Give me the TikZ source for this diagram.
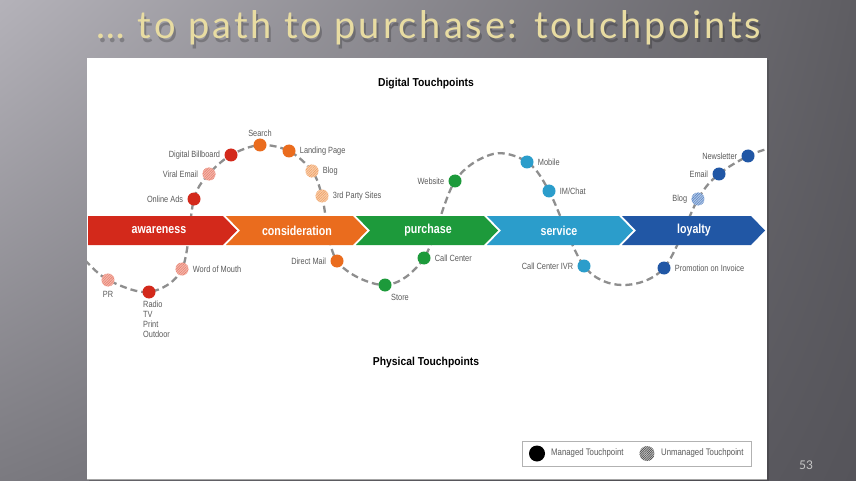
\documentclass[tikz,border=0pt]{standalone}
\usepackage{fontspec}
\usetikzlibrary{patterns.meta,shadings}
\newfontfamily\condfont[FakeStretch=0.82]{Liberation Sans}
\newfontfamily\headfont[FakeStretch=0.9]{Liberation Sans}
\newfontfamily\titlefont[LetterSpace=7.5]{Lato}
\newfontfamily\pagefont{Lato}
\definecolor{bgUL}{HTML}{B4B2B9}
\definecolor{bgUR}{HTML}{5E5D62}
\definecolor{bgLL}{HTML}{7B7A80}
\definecolor{bgLR}{HTML}{55545A}
\definecolor{cRed}{HTML}{D3291B}
\definecolor{cRedL}{HTML}{F5B9AE}
\definecolor{cRedH}{HTML}{E8806F}
\definecolor{cOra}{HTML}{EA6C1E}
\definecolor{cOraL}{HTML}{F9CFAE}
\definecolor{cOraH}{HTML}{F0A064}
\definecolor{cGre}{HTML}{1D9A3B}
\definecolor{cSer}{HTML}{2B9DCB}
\definecolor{cLoy}{HTML}{2157A5}
\definecolor{cLoyL}{HTML}{B3C8E6}
\definecolor{cLoyH}{HTML}{5A86C5}
\definecolor{labgray}{HTML}{5A5A5A}
\definecolor{curvegray}{HTML}{8E8E8E}
\definecolor{titlecol}{HTML}{E8DCA2}
\begin{document}
\begin{tikzpicture}[x=1pt,y=-1pt,
  tp/.style={circle, minimum size=13pt, inner sep=0pt, fill=#1},
  tph/.style 2 args={circle, minimum size=13pt, inner sep=0pt, fill=#1,
     postaction={pattern={Lines[angle=45,distance=1.8pt,line width=0.6pt]}, pattern color=#2}},
  lab/.style={font=\condfont\fontsize{9}{10}\selectfont, text=labgray, inner sep=1pt},
  bandlab/.style={font=\condfont\bfseries\fontsize{13}{14}\selectfont, text=white},
  head/.style={font=\headfont\bfseries\fontsize{11.5}{13}\selectfont, text=black},
  ttl/.style={font=\titlefont\fontsize{38}{40}\selectfont, anchor=base},
  label distance=2pt]
\useasboundingbox (0,0) rectangle (856,481);
\shade[upper left=bgUL, upper right=bgUR, lower left=bgLL, lower right=bgLR] (0,0) rectangle (856,481);
% title
\node[ttl, text=black, opacity=0.22] (titleshadow) at (431,43) {… to path to purchase: touchpoints};
\node[ttl, text=titlecol] (title) at (429,39) {… to path to purchase: touchpoints};
% panel
\fill[black, opacity=0.15] (89,60) rectangle (769,481);
\fill[white] (87,58) rectangle (767,479);
\draw[gray!70, line width=0.8pt] (87,479.5) -- (767,479.5);
\node[head] (digital) at (426,84) {Digital Touchpoints};
\node[head] (physical) at (426,363) {Physical Touchpoints};
% curve coordinates
\coordinate (e0) at (85,260);
\coordinate (pr0) at (108,280);
\coordinate (radio0) at (149,292);
\coordinate (wom0) at (182,269);
\coordinate (oa0) at (194,199);
\coordinate (ve0) at (209,174);
\coordinate (db0) at (231,155);
\coordinate (se0) at (260,145);
\coordinate (lp0) at (289,151);
\coordinate (bl0) at (312,171);
\coordinate (tp0) at (322,196);
\coordinate (dm0) at (337,261);
\coordinate (st0) at (385,285);
\coordinate (cc0) at (424,258);
\coordinate (ws0) at (455,181);
\coordinate (pk) at (493,154);
\coordinate (mo0) at (527,162);
\coordinate (im0) at (549,191);
\coordinate (ivr0) at (584,266);
\coordinate (bt) at (622,285);
\coordinate (po0) at (664,268);
\coordinate (bl2) at (698,199);
\coordinate (em0) at (719,174);
\coordinate (nl0) at (748,156);
\coordinate (e1) at (767,149);
\begin{scope}
\clip (87,58) rectangle (767,479);
\draw[curvegray, line width=2.3pt, dash pattern=on 7pt off 4pt] plot[smooth, tension=0.55] coordinates {(e0) (pr0) (radio0) (wom0) (oa0) (ve0) (db0) (se0) (lp0) (bl0) (tp0) (dm0) (st0) (cc0) (ws0) (pk) (mo0) (im0) (ivr0) (bt) (po0) (bl2) (em0) (nl0) (e1)};
\end{scope}
% band
\fill[cRed] (88,216) -- (223,216) -- (237,230.5) -- (223,245) -- (88,245) -- cycle;
\fill[cOra] (226,216) -- (353,216) -- (367,230.5) -- (353,245) -- (226,245) -- (240,230.5) -- cycle;
\fill[cGre] (356,216) -- (484,216) -- (498,230.5) -- (484,245) -- (356,245) -- (370,230.5) -- cycle;
\fill[cSer] (487,216) -- (619,216) -- (633,230.5) -- (619,245) -- (487,245) -- (501,230.5) -- cycle;
\fill[cLoy] (622,216) -- (751,216) -- (765,230.5) -- (751,245) -- (622,245) -- (636,230.5) -- cycle;
\node[bandlab] (aw) at (159,230.5) {awareness};
\node[bandlab] (co) at (297,230.5) {consideration};
\node[bandlab] (pu) at (428,230.5) {purchase};
\node[bandlab] (sv) at (559,230.5) {service};
\node[bandlab] (ly) at (694,230.5) {loyalty};
% touchpoints
\node[tph={cRedL}{cRedH}, label={[lab,label distance=3pt]below:PR}] (pr) at (pr0) {};
\node[tp=cRed] (radio) at (radio0) {};
\node[lab, anchor=north west, align=left, font=\condfont\fontsize{9}{10}\selectfont] (radiolab) at (142,300) {Radio\\TV\\Print\\Outdoor};
\node[tph={cRedL}{cRedH}, label={[lab,label distance=3pt]right:Word of Mouth}] (wom) at (wom0) {};
\node[tp=cRed, label={[lab,label distance=3pt]left:Online Ads}] (oa) at (oa0) {};
\node[tph={cRedL}{cRedH}, label={[lab,label distance=3pt]left:Viral Email}] (ve) at (ve0) {};
\node[tp=cRed, label={[lab,label distance=3pt]left:Digital Billboard}] (db) at (db0) {};
\node[tp=cOra, label={[lab,label distance=1pt]above:Search}] (se) at (se0) {};
\node[tp=cOra, label={[lab,label distance=3pt]right:Landing Page}] (lp) at (lp0) {};
\node[tph={cOraL}{cOraH}, label={[lab,label distance=3pt]right:Blog}] (bl) at (bl0) {};
\node[tph={cOraL}{cOraH}, label={[lab,label distance=3pt]right:3rd Party Sites}] (tps) at (tp0) {};
\node[tp=cOra, label={[lab,label distance=3pt]left:Direct Mail}] (dm) at (dm0) {};
\node[tp=cGre] (st) at (st0) {};
\node[lab, anchor=west] (stlab) at (390,297) {Store};
\node[tp=cGre, label={[lab,label distance=3pt]right:Call Center}] (cc) at (cc0) {};
\node[tp=cGre, label={[lab,label distance=3pt]left:Website}] (ws) at (ws0) {};
\node[tp=cSer, label={[lab,label distance=3pt]right:Mobile}] (mo) at (mo0) {};
\node[tp=cSer, label={[lab,label distance=3pt]right:IM/Chat}] (im) at (im0) {};
\node[tp=cSer, label={[lab,label distance=3pt]left:Call Center IVR}] (ivr) at (ivr0) {};
\node[tp=cLoy, label={[lab,label distance=3pt]right:Promotion on Invoice}] (po) at (po0) {};
\node[tph={cLoyL}{cLoyH}, label={[lab,label distance=3pt]left:Blog}] (blb) at (bl2) {};
\node[tp=cLoy, label={[lab,label distance=3pt]left:Email}] (em) at (em0) {};
\node[tp=cLoy, label={[lab,label distance=3pt]left:Newsletter}] (nl) at (nl0) {};
% legend
\draw[gray!60, line width=0.6pt] (522,441) rectangle (751,466);
\node[circle, fill=black, minimum size=16pt, inner sep=0pt] (lg1) at (537,453.5) {};
\node[lab, anchor=west, font=\condfont\fontsize{9.5}{10}\selectfont] (lg1t) at (550,453.5) {Managed Touchpoint};
\node[circle, fill=gray!45, minimum size=15pt, inner sep=0pt,
  postaction={pattern={Lines[angle=45,distance=1.6pt,line width=0.6pt]}, pattern color=black!75}] (lg2) at (647,453.5) {};
\node[lab, anchor=west, font=\condfont\fontsize{9.5}{10}\selectfont] (lg2t) at (660,453.5) {Unmanaged Touchpoint};
% page number
\node[font=\pagefont\fontsize{12}{13}\selectfont, text=gray!45] (pg) at (806,465) {53};
\end{tikzpicture}
\end{document}
